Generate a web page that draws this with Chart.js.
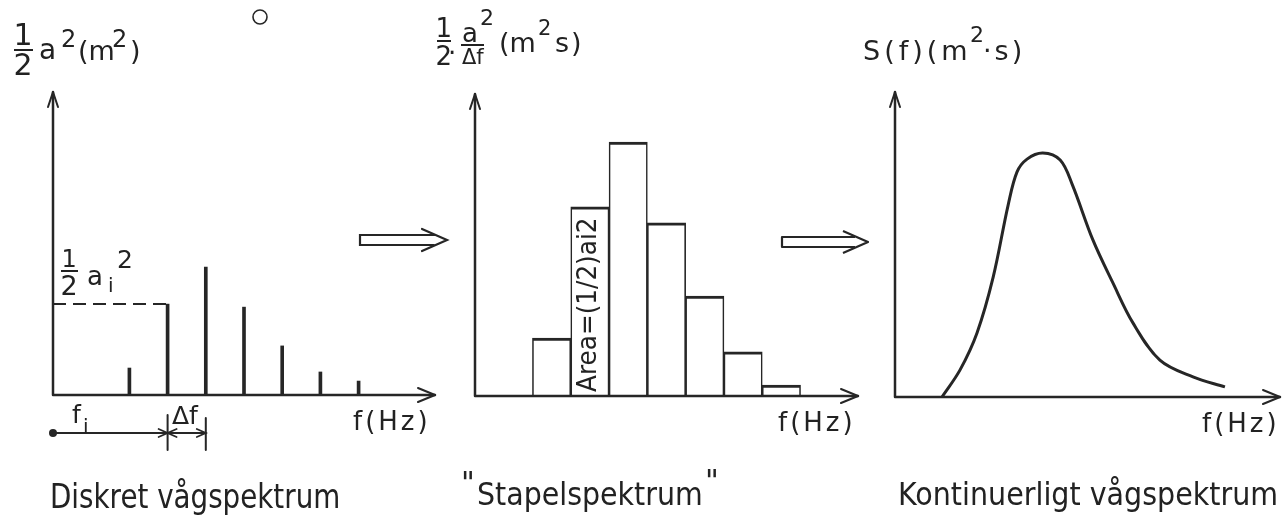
<!DOCTYPE html>
<html>
<head>
<meta charset="utf-8">
<script src="https://cdn.jsdelivr.net/npm/chart.js@4.4.1/dist/chart.umd.min.js"></script>
<style>
  html, body { margin: 0; padding: 0; background: #fff; }
  body { position: relative; width: 1282px; height: 515px; overflow: hidden;
         font-family: "DejaVu Sans", sans-serif; color: #222; }
  canvas { position: absolute; top: 0; }
  .t { position: absolute; white-space: pre; transform-origin: 0 0; }
  .bar { position: absolute; height: 2px; background: #222; }
</style>
</head>
<body>
<canvas id="c1" width="450" height="515" style="left:0px"></canvas>
<canvas id="c2" width="420" height="515" style="left:450px"></canvas>
<canvas id="c3" width="412" height="515" style="left:870px"></canvas>
<script>
// --- data (x in units of delta f) ---
const spikeF = [2, 3, 4, 5, 6, 7, 8];
const spikeA = [0.89, 3.0, 4.22, 2.9, 1.62, 0.76, 0.46];        // 1/2 a_i^2

const binF = [2, 3, 4, 5, 6, 7, 8];
const binS = [1.92, 6.26, 8.41, 5.73, 3.31, 1.46, 0.36];         // 1/2 a^2 / df

const curveF = [1.22, 1.69, 2.13, 2.55, 2.94, 3.17, 3.43, 3.84, 4.29, 4.60, 5.14, 5.66, 6.18, 6.88, 7.74, 8.57];
const curveS = [0, 0.89, 2.10, 3.93, 6.30, 7.38, 7.80, 8.0, 7.77, 6.98, 5.15, 3.74, 2.43, 1.21, 0.66, 0.33];

const panelTitles = ["Diskret vågspektrum", "Stapelspektrum", "Kontinuerligt vågspektrum"];
const xTitle = "f(Hz)";
const areaText = "Area=(1/2)ai2";

const INK = "#262626";

function arrowHead(ctx, tx, ty, dir, len, spread) {
  ctx.beginPath();
  if (dir === "up") {
    ctx.moveTo(tx - spread, ty + len); ctx.lineTo(tx, ty); ctx.lineTo(tx + spread, ty + len);
  } else if (dir === "right") {
    ctx.moveTo(tx - len, ty - spread); ctx.lineTo(tx, ty); ctx.lineTo(tx - len, ty + spread);
  } else {
    ctx.moveTo(tx + len, ty - spread); ctx.lineTo(tx, ty); ctx.lineTo(tx + len, ty + spread);
  }
  ctx.stroke();
}

function hollowArrow(ctx, x0, x1, yc) {
  ctx.beginPath();
  ctx.moveTo(x1 - 13, yc - 5); ctx.lineTo(x0, yc - 5); ctx.lineTo(x0, yc + 5); ctx.lineTo(x1 - 13, yc + 5);
  ctx.moveTo(x1 - 25, yc - 11); ctx.lineTo(x1, yc); ctx.lineTo(x1 - 25, yc + 11);
  ctx.stroke();
}

// arrowed axes drawn along the chart area
const axes = {
  id: "axes",
  afterDraw(chart) {
    const { ctx, chartArea: a } = chart;
    ctx.save();
    ctx.strokeStyle = INK; ctx.lineWidth = 2.5; ctx.lineCap = "round"; ctx.lineJoin = "round";
    ctx.beginPath();
    ctx.moveTo(a.left, a.top); ctx.lineTo(a.left, a.bottom); ctx.lineTo(a.right, a.bottom);
    ctx.stroke();
    ctx.lineWidth = 2;
    arrowHead(ctx, a.left, a.top, "up", 15, 5);
    arrowHead(ctx, a.right, a.bottom, "right", 17, 7);
    ctx.restore();
  }
};

const panel1Extras = {
  id: "p1x",
  afterDraw(chart) {
    const { ctx, scales: { x }, chartArea: a } = chart;
    const yA = a.bottom + 38;
    const x0 = x.getPixelForValue(0), x1 = x.getPixelForValue(spikeF[1]), x2 = x.getPixelForValue(spikeF[2]);
    ctx.save();
    ctx.strokeStyle = INK; ctx.fillStyle = INK; ctx.lineWidth = 1.8; ctx.lineCap = "round";
    ctx.beginPath(); ctx.arc(x0, yA, 4, 0, Math.PI * 2); ctx.fill();
    ctx.beginPath(); ctx.moveTo(x0, yA); ctx.lineTo(x1, yA); ctx.lineTo(x2, yA); ctx.stroke();
    arrowHead(ctx, x1, yA, "right", 9, 4);
    arrowHead(ctx, x1, yA, "left", 9, 4);
    arrowHead(ctx, x2, yA, "right", 9, 4);
    ctx.lineWidth = 2;
    ctx.beginPath();
    ctx.moveTo(x1, yA - 18); ctx.lineTo(x1, yA + 17);
    ctx.moveTo(x2, yA - 15); ctx.lineTo(x2, yA + 17);
    ctx.stroke();
    ctx.lineWidth = 2.2;
    hollowArrow(ctx, 360, 447, 240);
    ctx.lineWidth = 1.6;
    ctx.beginPath(); ctx.arc(260, 17, 7, 0, Math.PI * 2); ctx.stroke();
    ctx.restore();
  }
};

const panel2Extras = {
  id: "p2x",
  afterDraw(chart) {
    const ctx = chart.ctx;
    ctx.save();
    ctx.strokeStyle = INK; ctx.lineWidth = 2.2; ctx.lineJoin = "round";
    hollowArrow(ctx, 782 - 450, 868 - 450, 242);
    ctx.restore();
  }
};

const common = (pad) => ({
  responsive: false,
  animation: false,
  events: [],
  layout: { padding: pad },
  plugins: { legend: { display: false }, tooltip: { enabled: false } },
  scales: {
    x: { type: "linear", min: 0, max: 10, offset: false, display: false },
    y: { type: "linear", min: 0, max: 10, display: false }
  }
});

new Chart(document.getElementById("c1"), {
  type: "bar",
  data: {
    datasets: [
      {
        type: "bar",
        data: spikeF.map((f, i) => ({ x: f, y: spikeA[i] })),
        backgroundColor: INK,
        barThickness: 3
      },
      {
        type: "line",
        data: [{ x: 0, y: spikeA[1] }, { x: spikeF[1], y: spikeA[1] }],
        borderColor: INK, borderWidth: 2, borderDash: [13, 7],
        pointRadius: 0, fill: false
      }
    ]
  },
  options: common({ left: 53, right: 15, top: 92, bottom: 120 }),
  plugins: [axes, panel1Extras]
});

new Chart(document.getElementById("c2"), {
  type: "bar",
  data: {
    datasets: [{
      data: binF.map((f, i) => ({ x: f, y: binS[i] })),
      backgroundColor: "#ffffff",
      borderColor: INK,
      borderWidth: { top: 3, left: 1.6, right: 1.6, bottom: 0 },
      borderSkipped: "bottom",
      barPercentage: 1,
      categoryPercentage: 1
    }]
  },
  options: common({ left: 25, right: 12, top: 94, bottom: 119 }),
  plugins: [axes, panel2Extras]
});

new Chart(document.getElementById("c3"), {
  type: "line",
  data: {
    datasets: [{
      data: curveF.map((f, i) => ({ x: f, y: curveS[i] })),
      borderColor: INK, borderWidth: 3,
      tension: 0.35,
      pointRadius: 0, fill: false
    }]
  },
  options: common({ left: 25, right: 2, top: 92, bottom: 118 }),
  plugins: [axes]
});

// --- text ---
function label(html, x, base, size, opt = {}) {
  const d = document.createElement("div");
  d.className = "t";
  d.innerHTML = html;
  d.style.fontSize = size + "px";
  d.style.lineHeight = size + "px";
  if (opt.ls) d.style.letterSpacing = opt.ls + "px";
  document.body.appendChild(d);
  let w = d.offsetWidth, s = 1;
  if (opt.w) { s = opt.w / w; w = opt.w; }
  const left = opt.center ? x - w / 2 : x;
  if (opt.rot) {
    d.style.left = (x - 0.846 * size) + "px";
    d.style.top = base + "px";
    d.style.transform = `rotate(-90deg) scaleX(${s})`;
  } else {
    d.style.left = left + "px";
    d.style.top = (base - 0.846 * size) + "px";
    if (s !== 1) d.style.transform = `scaleX(${s})`;
  }
  return d;
}
function fracBar(x0, x1, y) {
  const b = document.createElement("div");
  b.className = "bar";
  b.style.left = x0 + "px"; b.style.top = y + "px"; b.style.width = (x1 - x0) + "px";
  document.body.appendChild(b);
}

// panel 1 y title: 1/2 a^2 (m^2)
label("1", 23, 45, 30, { center: true });
fracBar(14, 33, 49);
label("2", 23, 75, 30, { center: true });
label("a", 39, 60, 28);
label("2", 61, 47, 24);
label("(m", 78, 60, 27);
label("2", 112, 47, 24);
label(")", 130, 60, 27);

// 1/2 a_i^2 marker
label("1", 69, 267, 24, { center: true });
fracBar(61, 78, 270);
label("2", 69, 295, 27, { center: true });
label("a", 87, 285, 26);
label("i", 108, 292, 20);
label("2", 117, 268, 25);

// f_i and delta f
label("f", 72, 423, 25);
label("i", 83, 433, 20);
label("Δf", 172, 424, 25);
label(xTitle, 353, 430, 26, { ls: 3 });

// panel 2 y title: 1/2 . a^2/df (m^2 s)
label("1", 444, 37, 26, { center: true });
fracBar(437, 451, 40);
label("2", 444, 65, 26, { center: true });
label("·", 448, 62, 26);
label("a", 470, 42, 26, { center: true });
label("2", 480, 26, 22);
fracBar(461, 484, 44);
label("Δf", 462, 65, 21);
label("(m", 499, 52, 27);
label("2", 538, 36, 21);
label("s)", 555, 52, 27, { ls: 2 });
label(areaText, 596, 392, 27, { rot: true, w: 175 });
label(xTitle, 778, 431, 26, { ls: 3 });

// panel 3 y title: S(f)(m^2 . s)
label("S(f)(m", 863, 60, 27, { ls: 4 });
label("2", 970, 43, 22);
label("·s)", 983, 60, 27, { ls: 3 });
label(xTitle, 1202, 432, 26, { ls: 3 });

// captions
label(panelTitles[0], 50, 508, 33, { w: 290 });
label("\"", 461, 493, 30);
label(panelTitles[1], 477, 505, 32, { w: 226 });
label("\"", 705, 491, 30);
label(panelTitles[2], 898, 505, 32, { w: 380 });
</script>
</body>
</html>
